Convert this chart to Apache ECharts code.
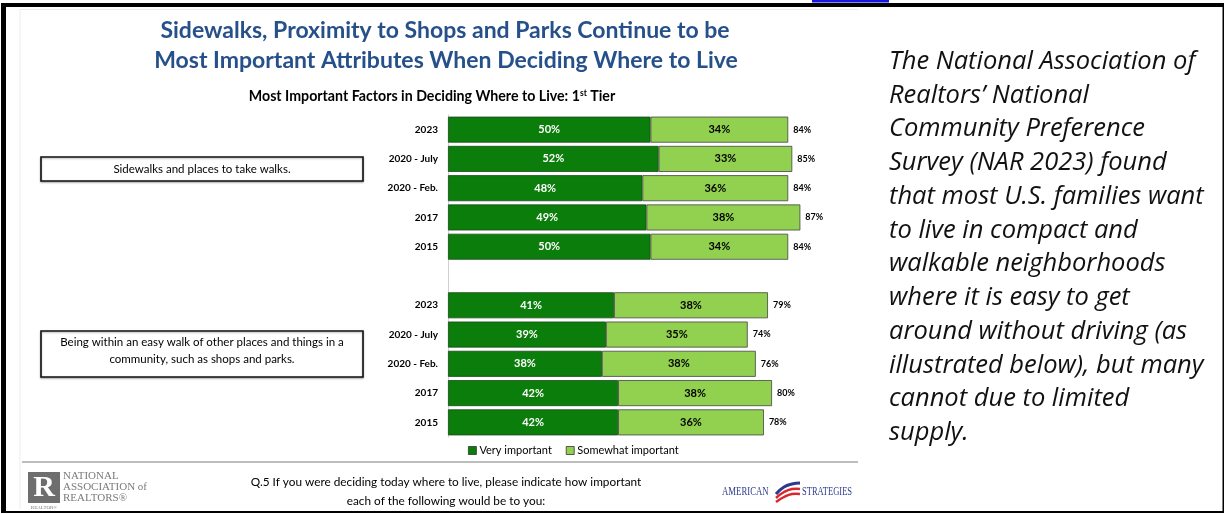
<!DOCTYPE html>
<html>
<head>
<meta charset="utf-8">
<title>Most Important Factors in Deciding Where to Live</title>
<script src="https://cdn.jsdelivr.net/npm/echarts@6/dist/echarts.min.js"></script>
<style>
  html, body { margin: 0; padding: 0; background: #fff; }
  #chart { width: 1225px; height: 514px; }
</style>
</head>
<body>
<div id="chart"></div>
<script>
// survey waves (same for both factors)
const years = ['2023', '2020 - July', '2020 - Feb.', '2017', '2015']

// Sidewalks and places to take walks
const veryWalks = [50, 52, 48, 49, 50]
const someWalks = [34, 33, 36, 38, 34]
const totalWalks = [84, 85, 84, 87, 84]

// Being within an easy walk of shops and parks
const veryShops = [41, 39, 38, 42, 42]
const someShops = [38, 35, 38, 38, 36]
const totalShops = [79, 74, 76, 80, 78]

const noteLines = [
  'The National Association of',
  'Realtors\u2019 National',
  'Community Preference',
  'Survey (NAR 2023) found',
  'that most U.S. families want',
  'to live in compact and',
  'walkable neighborhoods',
  'where it is easy to get',
  'around without driving (as',
  'illustrated below), but many',
  'cannot due to limited',
  'supply.'
]

// axis rows: group A, a blank spacer row, group B
const categories = [
  ...years.map(y => 'A|' + y),
  'gap',
  ...years.map(y => 'B|' + y)
]
const join = (a, b) => [...a, '-', ...b]

const FONT = 'Lato, "Open Sans", sans-serif'
const SERIF = '"Liberation Serif", serif'
const DARK = '#0b7d0b'
const LIGHT = '#92d050'

const chart = echarts.init(document.getElementById('chart'))

const noteText = noteLines.map((t, i) => ({
  type: 'text',
  x: 889,
  y: 61.5 + i * 33.75,
  style: { text: t, font: 'italic 25.5px "Open Sans", sans-serif', fill: '#111', textVerticalAlign: 'middle' }
}))

chart.setOption({
  animation: false,
  textStyle: { fontFamily: FONT },
  grid: { left: 448, width: 405, top: 115, height: 322 },
  xAxis: { type: 'value', min: 0, max: 100, show: false },
  yAxis: {
    type: 'category',
    inverse: true,
    data: categories,
    axisTick: { show: false },
    axisLine: { lineStyle: { color: '#d0d0d0', width: 1 } },
    axisLabel: {
      margin: 10,
      fontSize: 10,
      fontWeight: 'bold',
      color: '#000',
      formatter: v => v.split('|')[1] || ''
    }
  },
  legend: {
    data: ['Very important', 'Somewhat important'],
    left: 463,
    top: 440,
    icon: 'rect',
    itemWidth: 8,
    itemHeight: 8,
    itemGap: 14,
    textStyle: { fontSize: 11, color: '#000', padding: [0, 0, 0, -2] },
    itemStyle: { borderColor: '#333', borderWidth: 0.8 }
  },
  series: [
    {
      name: 'Very important',
      type: 'bar',
      stack: 'tot',
      barWidth: 26,
      data: join(veryWalks, veryShops),
      itemStyle: { color: DARK, borderColor: '#1c4a1c', borderWidth: 0.8 },
      label: {
        show: true, position: 'inside', color: '#fff',
        fontSize: 11, fontWeight: 'bold', formatter: '{c}%'
      }
    },
    {
      name: 'Somewhat important',
      type: 'bar',
      stack: 'tot',
      barWidth: 26,
      data: join(someWalks, someShops),
      itemStyle: { color: LIGHT, borderColor: '#444', borderWidth: 0.8 },
      label: {
        show: true, position: 'inside', color: '#000',
        fontSize: 11, fontWeight: 'bold', formatter: '{c}%'
      }
    },
    {
      // invisible total bar, only used for the right-hand label
      name: 'Total',
      type: 'bar',
      barWidth: 26,
      barGap: '-100%',
      silent: true,
      z: 1,
      data: join(totalWalks, totalShops),
      itemStyle: { color: 'rgba(0,0,0,0)' },
      label: {
        show: true, position: 'right', distance: 5, color: '#000',
        fontSize: 9, fontWeight: 'bold', formatter: '{c}%'
      }
    }
  ],
  graphic: [
    // page frame
    { type: 'rect', shape: { x: 1, y: 3, width: 1223, height: 4 }, style: { fill: '#000' } },
    { type: 'rect', shape: { x: 1, y: 3, width: 5, height: 510 }, style: { fill: '#000' } },
    { type: 'rect', shape: { x: 1, y: 511, width: 1223, height: 2 }, style: { fill: '#000' } },
    { type: 'rect', shape: { x: 1222.5, y: 3, width: 1.5, height: 510 }, style: { fill: '#000' } },
    { type: 'rect', shape: { x: 812, y: 0, width: 77, height: 2.5 }, style: { fill: '#1515e0' } },
    // slide edge (top and left only)
    { type: 'polyline', shape: { points: [[20, 509], [20, 9.5], [858, 9.5]] }, style: { stroke: '#ececec', lineWidth: 1, fill: 'none' } },
    // titles
    {
      type: 'text', x: 445, y: 31,
      style: {
        text: 'Sidewalks, Proximity to Shops and Parks Continue to be',
        font: 'bold 23px ' + FONT, fill: '#26508a', textAlign: 'center', textVerticalAlign: 'middle'
      }
    },
    {
      type: 'text', x: 446, y: 61,
      style: {
        text: 'Most Important Attributes When Deciding Where to Live',
        font: 'bold 23px ' + FONT, fill: '#26508a', textAlign: 'center', textVerticalAlign: 'middle'
      }
    },
    {
      type: 'text', x: 432, y: 96,
      style: {
        text: '{a|Most Important Factors in Deciding Where to Live: 1}{s|st}{a| Tier}',
        align: 'center', verticalAlign: 'middle',
        rich: {
          a: { fontFamily: FONT, fontSize: 14.2, fontWeight: 'bold', fill: '#000' },
          s: { fontFamily: FONT, fontSize: 8.5, fontWeight: 'bold', fill: '#000', verticalAlign: 'top', padding: [0, 0, 6, 0] }
        }
      }
    },
    // factor boxes
    {
      type: 'rect', shape: { x: 41, y: 157, width: 322, height: 24 },
      style: { fill: '#fff', stroke: '#111', lineWidth: 1.6, shadowBlur: 2, shadowColor: 'rgba(0,0,0,0.3)', shadowOffsetY: 1 }
    },
    {
      type: 'text', x: 202, y: 169,
      style: { text: 'Sidewalks and places to take walks.', font: '11.5px ' + FONT, fill: '#000', textAlign: 'center', textVerticalAlign: 'middle' }
    },
    {
      type: 'rect', shape: { x: 41, y: 331, width: 322, height: 46 },
      style: { fill: '#fff', stroke: '#111', lineWidth: 1.6, shadowBlur: 2, shadowColor: 'rgba(0,0,0,0.3)', shadowOffsetY: 1 }
    },
    {
      type: 'text', x: 202, y: 351,
      style: {
        text: 'Being within an easy walk of other places and things in a\ncommunity, such as shops and parks.',
        font: '11.5px ' + FONT, fill: '#000', textAlign: 'center', textVerticalAlign: 'middle', lineHeight: 17
      }
    },
    // footer rule
    { type: 'rect', shape: { x: 22, y: 461, width: 836, height: 2 }, style: { fill: '#bdbdbd' } },
    // NAR logo
    { type: 'rect', shape: { x: 28, y: 472, width: 32, height: 31 }, style: { fill: '#6e6e6e' } },
    {
      type: 'text', x: 44, y: 488,
      style: { text: 'R', font: 'bold 30px ' + SERIF, fill: '#fff', textAlign: 'center', textVerticalAlign: 'middle' }
    },
    {
      type: 'text', x: 44, y: 508,
      style: { text: 'REALTOR\u00ae', font: '5px ' + SERIF, fill: '#777', textAlign: 'center', textVerticalAlign: 'middle' }
    },
    {
      type: 'text', x: 63, y: 471,
      style: {
        text: 'NATIONAL\nASSOCIATION of\nREALTORS\u00ae',
        font: '11px ' + SERIF, fill: '#7a7a7a', lineHeight: 11
      }
    },
    // question
    {
      type: 'text', x: 446, y: 492,
      style: {
        text: 'Q.5 If you were deciding today where to live, please indicate how important\neach of the following would be to you:',
        font: '11.8px ' + FONT, fill: '#000', textAlign: 'center', textVerticalAlign: 'middle', lineHeight: 19
      }
    },
    // American Strategies logo
    {
      type: 'text', x: 722, y: 492, scaleX: 0.7,
      style: { text: 'AMERICAN', font: '12.5px ' + SERIF, fill: '#2d3a8c', textVerticalAlign: 'middle' }
    },
    {
      type: 'polyline', shape: { points: [[776, 494], [784, 487], [792, 484], [800, 483]], smooth: 0.5 },
      style: { stroke: '#2d3a8c', lineWidth: 3, fill: 'none' }
    },
    {
      type: 'polyline', shape: { points: [[776, 498], [784, 492], [792, 489], [800, 489]], smooth: 0.5 },
      style: { stroke: '#d8262e', lineWidth: 2.5, fill: 'none' }
    },
    {
      type: 'polyline', shape: { points: [[776, 502], [784, 497], [792, 494], [800, 494]], smooth: 0.5 },
      style: { stroke: '#d8262e', lineWidth: 2.5, fill: 'none' }
    },
    {
      type: 'text', x: 802, y: 492, scaleX: 0.68,
      style: { text: 'STRATEGIES', font: '12.5px ' + SERIF, fill: '#2d3a8c', textVerticalAlign: 'middle' }
    },
    ...noteText
  ]
})
</script>
</body>
</html>
